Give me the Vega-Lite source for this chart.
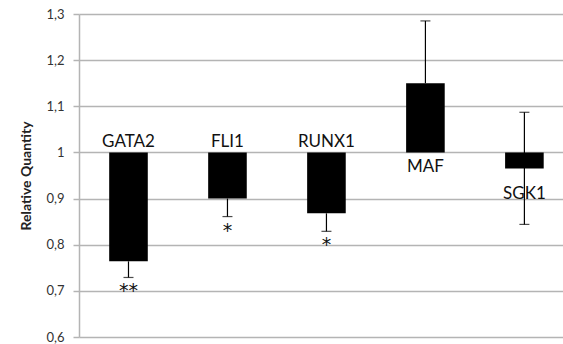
{
  "$schema": "https://vega.github.io/schema/vega-lite/v6.json",
  "autosize": "none",
  "width": 484,
  "height": 323,
  "padding": {"left": 79, "top": 14, "right": 0, "bottom": 7},
  "background": "white",
  "config": {"view": {"stroke": null}, "font": "Lato"},
  "data": {"values": [
    {"gene": "GATA2", "value": 0.764, "lo": 0.729, "hi": 0.764, "sig": "**"},
    {"gene": "FLI1", "value": 0.9, "lo": 0.861, "hi": 0.9, "sig": "*"},
    {"gene": "RUNX1", "value": 0.868, "lo": 0.829, "hi": 0.868, "sig": "*"},
    {"gene": "MAF", "value": 1.15, "lo": 1.15, "hi": 1.285, "sig": ""},
    {"gene": "SGK1", "value": 0.965, "lo": 0.844, "hi": 1.087, "sig": ""}
  ]},
  "encoding": {
    "x": {"field": "gene", "type": "nominal", "sort": null,
      "scale": {"paddingInner": 0.61, "paddingOuter": 0.25, "align": 0.61},
      "axis": null}
  },
  "layer": [
    {
      "mark": {"type": "bar", "color": "#000000"},
      "encoding": {
        "y": {"field": "value", "type": "quantitative",
          "scale": {"domain": [0.6, 1.3], "nice": false, "zero": false},
          "axis": {
            "values": [0.6, 0.7, 0.8, 0.9, 1.0, 1.1, 1.2, 1.3],
            "labelExpr": "datum.value == 1 ? '1' : replace(format(datum.value, '.1f'), '.', ',')",
            "title": "Relative Quantity",
            "titleFont": "Lato", "titleFontSize": 14, "titleFontWeight": "bold",
            "titleColor": "#222222", "titlePadding": 12,
            "labelFont": "Lato", "labelFontSize": 13, "labelColor": "#333333", "labelPadding": 9,
            "grid": true, "gridColor": "#b4b4b4", "gridWidth": 1.5,
            "domainColor": "#b4b4b4", "domainWidth": 1.5,
            "tickColor": "#b4b4b4", "tickSize": 6, "tickWidth": 1.5
          }},
        "y2": {"datum": 1}
      }
    },
    {
      "mark": {"type": "rule", "color": "#000000", "strokeWidth": 1.2},
      "encoding": {
        "y": {"field": "lo", "type": "quantitative"},
        "y2": {"field": "hi"}
      }
    },
    {
      "transform": [{"filter": "datum.lo < datum.value"}],
      "mark": {"type": "tick", "color": "#000000", "size": 10, "thickness": 1.2},
      "encoding": {"y": {"field": "lo", "type": "quantitative"}}
    },
    {
      "transform": [{"filter": "datum.hi > datum.value"}],
      "mark": {"type": "tick", "color": "#000000", "size": 10, "thickness": 1.2},
      "encoding": {"y": {"field": "hi", "type": "quantitative"}}
    },
    {
      "mark": {"type": "text", "font": "DejaVu Sans", "fontSize": 19, "color": "#111111", "baseline": "top", "dy": 5},
      "encoding": {
        "y": {"field": "lo", "type": "quantitative"},
        "text": {"field": "sig"}
      }
    },
    {
      "transform": [{"filter": "datum.value < 1"}, {"filter": "datum.gene != 'SGK1'"}],
      "mark": {"type": "text", "font": "Lato", "fontSize": 17, "color": "#111111", "baseline": "alphabetic", "dy": -5},
      "encoding": {
        "y": {"datum": 1},
        "text": {"field": "gene"}
      }
    },
    {
      "transform": [{"filter": "datum.gene == 'MAF'"}],
      "mark": {"type": "text", "font": "Lato", "fontSize": 17, "color": "#111111", "baseline": "middle", "dy": 15},
      "encoding": {
        "y": {"datum": 1},
        "text": {"field": "gene"}
      }
    },
    {
      "transform": [{"filter": "datum.gene == 'SGK1'"}],
      "mark": {"type": "text", "font": "Lato", "fontSize": 17, "color": "#111111", "baseline": "middle", "dy": 25},
      "encoding": {
        "y": {"field": "value", "type": "quantitative"},
        "text": {"field": "gene"}
      }
    }
  ]
}
